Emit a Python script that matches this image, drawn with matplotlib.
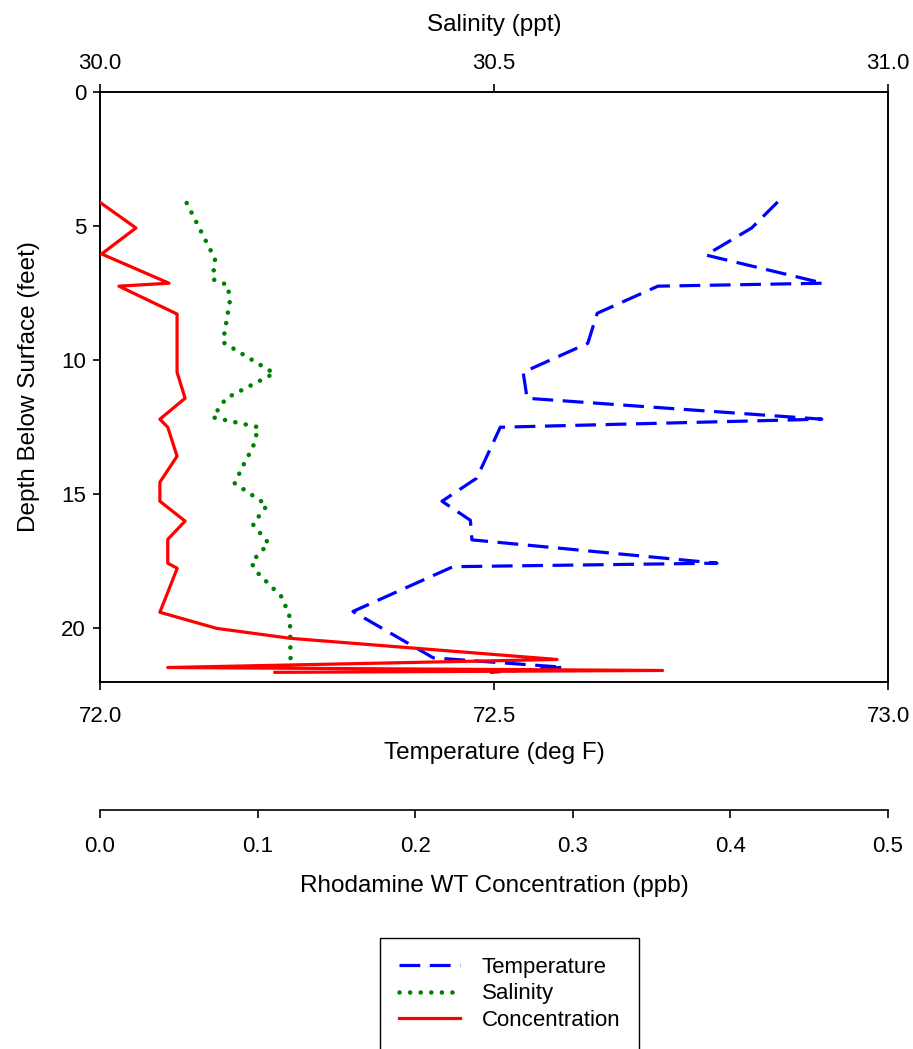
import matplotlib
matplotlib.use("Agg")
import matplotlib.pyplot as plt

plt.rcParams['font.family'] = ['Liberation Sans', 'DejaVu Sans']

# depth profiles (feet below surface)
temp_depth = [4.1, 5.07, 6.08, 7.13, 7.24, 8.25, 9.37, 10.45, 11.42, 12.2, 12.5,
              14.4, 15.26, 15.97, 16.7, 17.57, 17.7, 19.37, 21.1, 21.45, 21.64]
temp_degf = [72.860, 72.827, 72.769, 72.918, 72.708, 72.631, 72.619, 72.537, 72.542,
             72.916, 72.508, 72.478, 72.434, 72.470, 72.472, 72.783, 72.448, 72.321,
             72.423, 72.588, 72.495]

sal_depth = [4.14, 6.23, 6.98, 7.20, 7.76, 9.33, 10.49, 11.42, 12.13, 12.50, 13.25,
             13.96, 14.59, 15.41, 16.12, 16.83, 17.54, 17.87, 18.84, 19.59, 21.49]
sal_ppt = [30.110, 30.146, 30.143, 30.162, 30.165, 30.156, 30.221, 30.160, 30.143,
           30.201, 30.194, 30.181, 30.171, 30.212, 30.194, 30.214, 30.192, 30.198,
           30.231, 30.241, 30.242]

conc_depth = [4.14, 5.07, 6.04, 7.13, 7.24, 8.28, 10.45, 11.42, 12.2, 12.5, 13.58,
              14.55, 15.26, 16.0, 16.68, 17.57, 17.76, 19.40, 20.0, 20.37, 21.16,
              21.46, 21.57, 21.64]
conc_ppb = [0.0006, 0.0228, 0.001, 0.0438, 0.012, 0.0489, 0.0489, 0.054, 0.038, 0.043,
            0.0489, 0.038, 0.038, 0.054, 0.043, 0.043, 0.049, 0.038, 0.074, 0.1206,
            0.290, 0.043, 0.357, 0.111]

depth_ticks = [0, 5, 10, 15, 20]
temp_ticks = [72.0, 72.5, 73.0]
sal_ticks = [30.0, 30.5, 31.0]
conc_ticks = [0.0, 0.1, 0.2, 0.3, 0.4, 0.5]

fig = plt.figure(figsize=(9.13, 10.49), dpi=100)
ax = fig.add_axes([100 / 913, 1 - 682 / 1049, 788 / 913, 590 / 1049])
ax_sal = ax.twiny()
ax_conc = ax.twiny()

lt, = ax.plot(temp_degf, temp_depth, color='#0000ff', lw=2.3,
              dashes=(6.5, 3.0), label='Temperature')
ls, = ax_sal.plot(sal_ppt, sal_depth, color='#008000', lw=3.3,
                  linestyle=(0, (0.01, 2.3)), dash_capstyle='round', label='Salinity')
lc, = ax_conc.plot(conc_ppb, conc_depth, color='#ff0000', lw=2.3, label='Concentration')

ax.set_ylim(22, 0)
ax.set_yticks(depth_ticks)
ax.set_xlim(72.0, 73.0)
ax.set_xticks(temp_ticks)
ax.set_xticklabels(['%.1f' % t for t in temp_ticks])
ax.set_ylabel('Depth Below Surface (feet)', fontsize=17.5, labelpad=15)
ax.set_xlabel('Temperature (deg F)', fontsize=17.5, labelpad=11)

ax_sal.set_xlim(30.0, 31.0)
ax_sal.set_xticks(sal_ticks)
ax_sal.set_xticklabels(['%.1f' % t for t in sal_ticks])
ax_sal.set_xlabel('Salinity (ppt)', fontsize=17.5, labelpad=16)

ax_conc.set_xlim(0.0, 0.5)
ax_conc.set_xticks(conc_ticks)
ax_conc.set_xticklabels(['%.1f' % t for t in conc_ticks])
ax_conc.xaxis.set_ticks_position('bottom')
ax_conc.xaxis.set_label_position('bottom')
ax_conc.spines['bottom'].set_position(('outward', 92))
for s in ['top', 'left', 'right']:
    ax_conc.spines[s].set_visible(False)
ax_conc.set_xlabel('Rhodamine WT Concentration (ppb)', fontsize=17.5, labelpad=13)

for a in (ax, ax_sal, ax_conc):
    for s in a.spines.values():
        s.set_linewidth(1.2)
    a.tick_params(axis='x', direction='out', length=6, width=1.2, labelsize=16, pad=11)
ax.tick_params(axis='y', direction='out', length=5, width=1.2, labelsize=16, pad=5)
ax_sal.tick_params(axis='x', pad=7)
ax_conc.tick_params(axis='x', pad=13)

fig.legend(handles=[lt, ls, lc], loc='upper center',
           bbox_to_anchor=(509.5 / 913, 1 - 938 / 1049), fontsize=16,
           frameon=True, fancybox=False, edgecolor='black', framealpha=1,
           handlelength=2.75, handletextpad=1.0, borderpad=0.85, labelspacing=0.25,
           borderaxespad=0)

fig.savefig('out.png', dpi=100)
